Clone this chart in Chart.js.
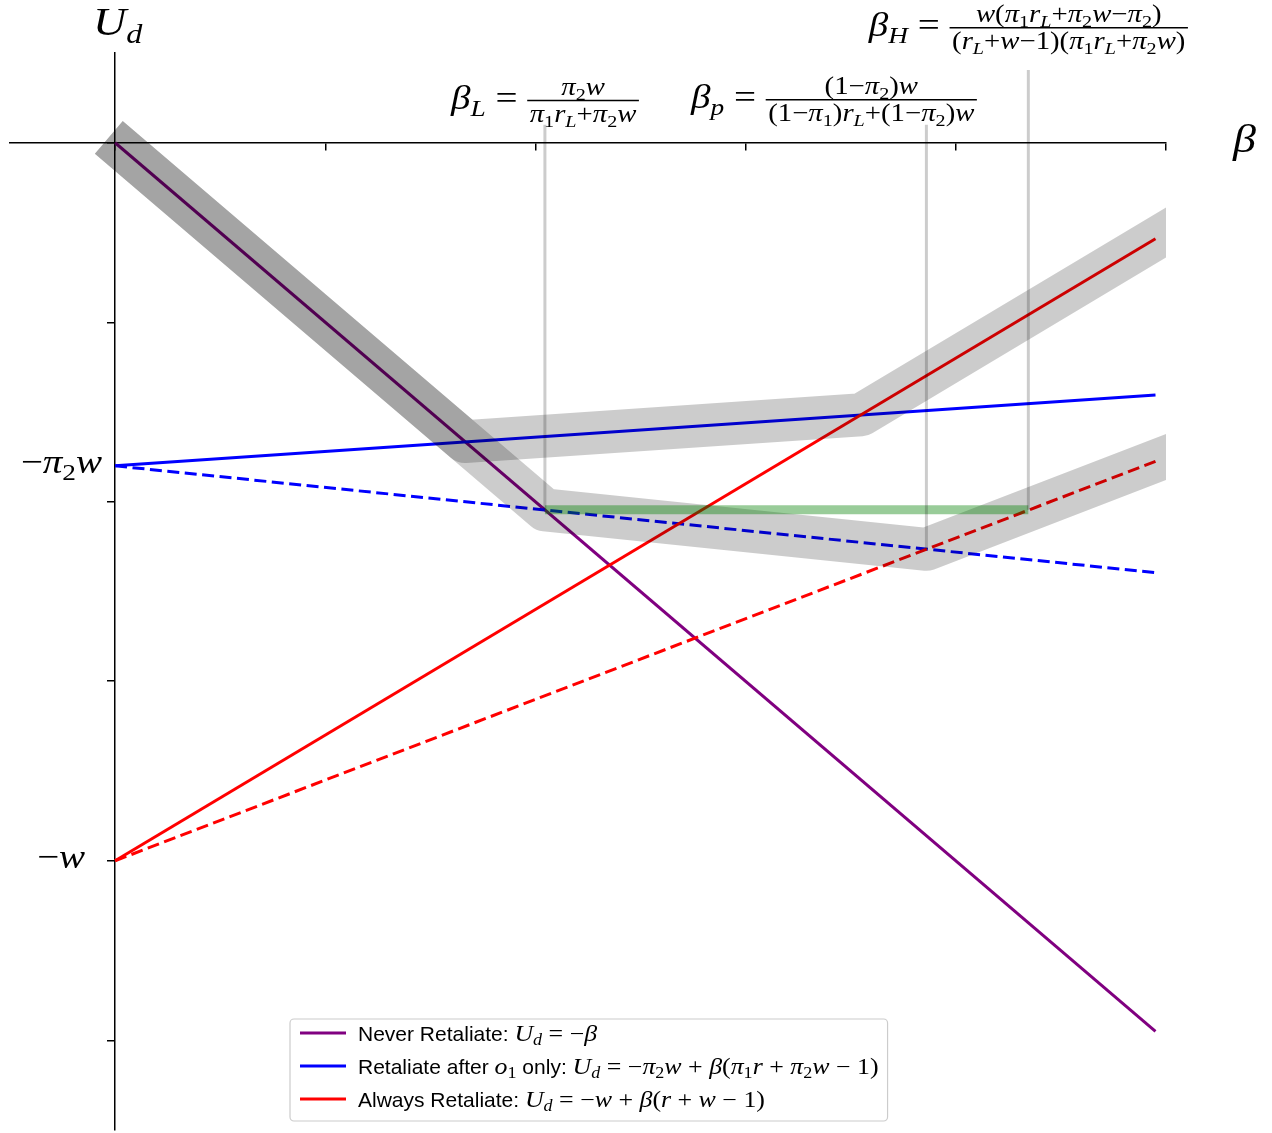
<!DOCTYPE html>
<html>
<head>
<meta charset="utf-8">
<script src="https://cdn.jsdelivr.net/npm/chart.js@4.4.1/dist/chart.umd.min.js"></script>
<style>
  html, body { margin: 0; padding: 0; background: #fff; }
</style>
</head>
<body>
<canvas id="chart" width="1272" height="1133"></canvas>
<script>
// Strategy lines (beta from 0 to 0.99)
const betaEnds = [0, 0.99];
const neverRetaliate = [0, -0.99];
const retaliateO1 = [-0.36, -0.281];
const retaliateO1Low = [-0.36, -0.479];
const alwaysRetaliate = [-0.8, -0.107];
const alwaysRetaliateLow = [-0.8, -0.355];

// Upper envelopes (thick grey bands), r and r_L cases
const envHighBeta = [-0.006, 0.333, 0.71, 1.05];
const envHighU = [0.006, -0.333, -0.303, -0.065];
const envLowBeta = [-0.006, 0.409, 0.772, 1.05];
const envLowU = [0.006, -0.409, -0.453, -0.3275];

// Green segment and the three thresholds beta_L, beta_p, beta_H
const greenBeta = [0.409, 0.869];
const greenU = [-0.409, -0.409];
const thresholdBeta = [0.409, 0.772, 0.869];
const thresholdBottom = [-0.409, -0.453, -0.409];
const thresholdTop = [0.02, 0.02, 0.081];

const xTicks = [0, 0.2, 0.4, 0.6, 0.8, 1.0];
const yTicks = [-1.0, -0.8, -0.6, -0.4, -0.2, 0];
const yLabelValues = [-0.36, -0.8];
const yLabels = ['−π_2w', '−w'];

const legendItems = [
  { color: 'purple', sans: 'Never Retaliate: ', math: 'U_d = −β', inline: null },
  { color: '#0000ff', sans: 'Retaliate after ', math: 'U_d = −π_2w + β(π_1r + π_2w − 1)', inline: ['o_1', ' only: '] },
  { color: '#ff0000', sans: 'Always Retaliate: ', math: 'U_d = −w + β(r + w − 1)', inline: null }
];

const SERIF = '"Liberation Serif", "DejaVu Serif", serif';
const SANS = '"Liberation Sans", Arial, sans-serif';
const MATH_SX = 1.15; // widen Times glyphs towards Computer Modern widths

function pts(xs, ys) {
  return xs.map((x, i) => ({ x: x, y: ys[i] }));
}

// tiny math text: letters italic, "_x" or "_{..}" subscript
function mathRuns(src) {
  const toks = [];
  let i = 0;
  while (i < src.length) {
    if (src[i] === '_') {
      i++;
      let s;
      if (src[i] === '{') { const j = src.indexOf('}', i); s = src.slice(i + 1, j); i = j + 1; }
      else { s = src[i]; i++; }
      for (const ch of s) toks.push({ ch: ch, sub: true });
    } else {
      toks.push({ ch: src[i], sub: false });
      i++;
    }
  }
  const runs = [];
  let prevIt = false;
  toks.forEach(t => {
    const it = t.ch === ' ' ? prevIt : /[A-Za-zα-ωΑ-Ω]/.test(t.ch);
    prevIt = it;
    const last = runs[runs.length - 1];
    if (last && last.it === it && last.sub === t.sub) last.text += t.ch;
    else runs.push({ text: t.ch, it: it, sub: t.sub });
  });
  return runs;
}

function mathFont(r, size) {
  const s = r.sub ? size * 0.7 : size;
  return (r.it ? 'italic ' : '') + s.toFixed(1) + 'px ' + SERIF;
}

function measureMath(ctx, src, size) {
  let w = 0;
  mathRuns(src).forEach(r => { ctx.font = mathFont(r, size); w += ctx.measureText(r.text).width * MATH_SX; });
  return w;
}

function drawMath(ctx, src, x, y, size, align) {
  const w = measureMath(ctx, src, size);
  let cx = align === 'center' ? x - w / 2 : align === 'right' ? x - w : x;
  ctx.textAlign = 'left';
  ctx.textBaseline = 'alphabetic';
  mathRuns(src).forEach(r => {
    ctx.font = mathFont(r, size);
    ctx.save();
    ctx.translate(cx, y + (r.sub ? size * 0.2 : 0));
    ctx.scale(MATH_SX, 1);
    ctx.fillText(r.text, 0, 0);
    ctx.restore();
    cx += ctx.measureText(r.text).width * MATH_SX;
  });
  return w;
}

function fracWidth(ctx, num, den, size) {
  return Math.max(measureMath(ctx, num, size), measureMath(ctx, den, size)) + size * 0.2;
}

function drawFrac(ctx, num, den, left, barY, size) {
  const w = fracWidth(ctx, num, den, size);
  ctx.strokeStyle = '#000';
  ctx.lineWidth = 1.5;
  ctx.beginPath();
  ctx.moveTo(left, barY);
  ctx.lineTo(left + w, barY);
  ctx.stroke();
  drawMath(ctx, num, left + w / 2, barY - size * 0.22, size, 'center');
  drawMath(ctx, den, left + w / 2, barY + size * 0.86, size, 'center');
  return w;
}

// "lhs = fraction" centred at cx, with the fraction bar at barY
function drawThreshold(ctx, lhs, num, den, cx, barY, size, fsize) {
  const lhsW = measureMath(ctx, lhs + ' = ', size);
  const total = lhsW + fracWidth(ctx, num, den, fsize);
  const left = cx - total / 2;
  drawMath(ctx, lhs + ' = ', left, barY + size * 0.25, size, 'left');
  drawFrac(ctx, num, den, left + lhsW, barY, fsize);
}

const mathLabels = {
  id: 'mathLabels',
  afterDraw(chart) {
    const ctx = chart.ctx;
    const xs = chart.scales.x;
    const ys = chart.scales.y;
    ctx.save();
    ctx.fillStyle = '#000';

    // axis names
    drawMath(ctx, 'U_d', xs.getPixelForValue(0) - 22, 35, 40, 'left');
    drawMath(ctx, 'β', 1233, ys.getPixelForValue(0) + 9, 40, 'left');

    // y labels
    const rightEdges = [-13, -30];
    yLabelValues.forEach((v, i) => {
      drawMath(ctx, yLabels[i], xs.getPixelForValue(0) + rightEdges[i], ys.getPixelForValue(v) + 7, 34, 'right');
    });

    // threshold formulas
    drawThreshold(ctx, 'β_L', 'π_2w', 'π_1r_L+π_2w',
      xs.getPixelForValue(0.409), ys.getPixelForValue(0.047), 34, 25);
    drawThreshold(ctx, 'β_p', '(1−π_2)w', '(1−π_1)r_L+(1−π_2)w',
      xs.getPixelForValue(0.684), ys.getPixelForValue(0.048), 34, 25);
    drawThreshold(ctx, 'β_H', 'w(π_1r_L+π_2w−π_2)', '(r_L+w−1)(π_1r_L+π_2w)',
      xs.getPixelForValue(0.869), ys.getPixelForValue(0.128), 34, 25);

    // legend
    const boxX = 290, boxY = 1019, rowH = 33, lineX = 300, textX = 358, fs = 21, mfs = 22.5;
    let maxW = 0;
    legendItems.forEach(item => {
      ctx.font = fs + 'px ' + SANS;
      let w = ctx.measureText(item.sans).width;
      if (item.inline) {
        w += measureMath(ctx, item.inline[0], mfs);
        ctx.font = fs + 'px ' + SANS;
        w += ctx.measureText(item.inline[1]).width;
      }
      w += measureMath(ctx, item.math, mfs);
      item.w = w;
      maxW = Math.max(maxW, w);
    });
    const boxW = textX - boxX + maxW + 9;
    const boxH = rowH * 3 + 3;
    ctx.fillStyle = 'rgba(255,255,255,0.8)';
    ctx.strokeStyle = '#cccccc';
    ctx.lineWidth = 1.2;
    ctx.beginPath();
    ctx.roundRect(boxX, boxY, boxW, boxH, 4);
    ctx.fill();
    ctx.stroke();

    legendItems.forEach((item, i) => {
      const cy = boxY + 14 + i * rowH;
      ctx.strokeStyle = item.color;
      ctx.lineWidth = 3;
      ctx.beginPath();
      ctx.moveTo(lineX, cy);
      ctx.lineTo(lineX + 46, cy);
      ctx.stroke();

      ctx.fillStyle = '#000';
      ctx.textAlign = 'left';
      ctx.textBaseline = 'alphabetic';
      const base = cy + 7.5;
      let x = textX;
      ctx.font = fs + 'px ' + SANS;
      ctx.fillText(item.sans, x, base);
      x += ctx.measureText(item.sans).width;
      if (item.inline) {
        x += drawMath(ctx, item.inline[0], x, base, mfs, 'left');
        ctx.font = fs + 'px ' + SANS;
        ctx.fillText(item.inline[1], x, base);
        x += ctx.measureText(item.inline[1]).width;
      }
      drawMath(ctx, item.math, x, base, mfs, 'left');
    });
    ctx.restore();
  }
};

function lineSet(data, color, width, dash, order) {
  return {
    data: data,
    borderColor: color,
    borderWidth: width,
    borderDash: dash || [],
    showLine: true,
    pointRadius: 0,
    fill: false,
    clip: 0,
    order: order
  };
}

const datasets = [
  lineSet(pts(betaEnds, neverRetaliate), 'purple', 3, null, 9),
  lineSet(pts(betaEnds, retaliateO1), '#0000ff', 3, null, 8),
  lineSet(pts(betaEnds, retaliateO1Low), '#0000ff', 3, [12, 5.5], 7),
  lineSet(pts(betaEnds, alwaysRetaliate), '#ff0000', 3, null, 6),
  lineSet(pts(betaEnds, alwaysRetaliateLow), '#ff0000', 3, [12, 5.5], 5),
  Object.assign(lineSet(pts(envHighBeta, envHighU), 'rgba(0,0,0,0.2)', 43, null, 4), { borderJoinStyle: 'round', borderCapStyle: 'butt' }),
  Object.assign(lineSet(pts(envLowBeta, envLowU), 'rgba(0,0,0,0.2)', 43, null, 3), { borderJoinStyle: 'round', borderCapStyle: 'butt' }),
  lineSet(pts(greenBeta, greenU), 'rgba(0,128,0,0.4)', 9, null, 2)
];
thresholdBeta.forEach((b, i) => {
  datasets.push(lineSet(pts([b, b], [thresholdBottom[i], thresholdTop[i]]), 'rgba(0,0,0,0.2)', 3, null, 1));
});

function axisStyle() {
  return {
    type: 'linear',
    ticks: { display: false },
    grid: { drawOnChartArea: false, drawTicks: true, tickLength: 7, color: '#000', lineWidth: 1.5 },
    border: { display: true, color: '#000', width: 1.5 }
  };
}

const xAxis = Object.assign(axisStyle(), {
  min: -0.1, max: 1.0, position: { y: 0 },
  afterBuildTicks: axis => { axis.ticks = xTicks.map(v => ({ value: v })); }
});
const yAxis = Object.assign(axisStyle(), {
  min: -1.1, max: 0.1, position: { x: 0 },
  afterBuildTicks: axis => { axis.ticks = yTicks.map(v => ({ value: v })); }
});

new Chart(document.getElementById('chart'), {
  type: 'scatter',
  data: { datasets: datasets },
  options: {
    responsive: false,
    devicePixelRatio: 1,
    animation: false,
    layout: { padding: { left: 10, right: 106, top: 53, bottom: 3 } },
    scales: { x: xAxis, y: yAxis },
    plugins: {
      legend: { display: false },
      tooltip: { enabled: false }
    }
  },
  plugins: [mathLabels]
});
</script>
</body>
</html>
